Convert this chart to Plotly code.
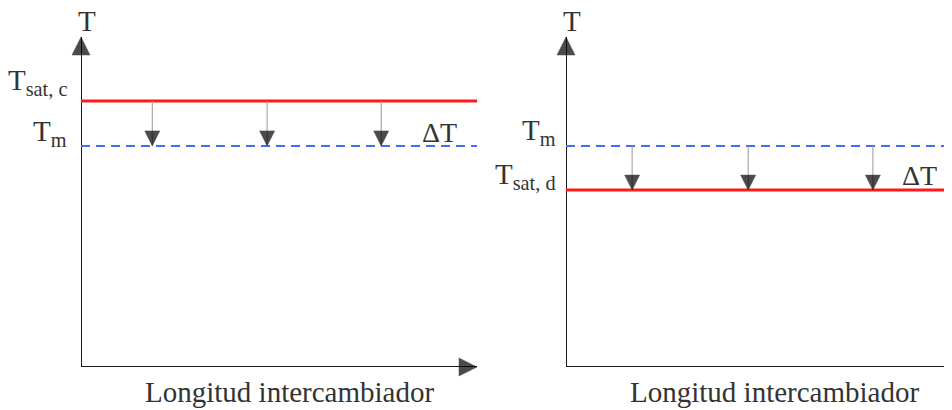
import plotly.graph_objects as go

# ---------------- data ----------------
axis_label_y = "T"
axis_label_x = "Longitud intercambiador"
delta_label = "ΔT"

length_max = 10.0          # length of the exchanger axis (arbitrary units)
temp_max = 100.0           # length of the temperature axis (arbitrary units)

# left panel: condensing fluid above the medium temperature
left_hot_level = 80.6      # T_sat, c
left_cold_level = 67.0     # T_m
left_hot_label = "T<sub>sat, c</sub>"
left_cold_label = "T<sub>m</sub>"
left_arrow_x = [1.80, 4.70, 7.58]

# right panel: evaporating fluid below the medium temperature
right_hot_level = 67.0     # T_m
right_cold_level = 53.6    # T_sat, d
right_hot_label = "T<sub>m</sub>"
right_cold_label = "T<sub>sat, d</sub>"
right_arrow_x = [1.67, 4.60, 7.75]

# ---------------- style ----------------
PAGE_OFF = 8                      # default body margin of the html page
WIN_W, WIN_H = 952, 410
W, H = WIN_W - PAGE_OFF, WIN_H - PAGE_OFF
FONT = "Liberation Serif"
RED = "#ff1a1a"
BLUE = "#3f6ff5"
AXIS = "#1a1a1a"
GREY = "#9a9a9a"

px_per_len = 39.6                 # pixels per length unit
left_x0_px, right_x0_px = 81 - PAGE_OFF, 566 - PAGE_OFF
y0_px, ytop_px = 367 - PAGE_OFF, 37 - PAGE_OFF

def xdom(x0px, xmax_len):
    return [x0px / W, min(1.0, (x0px + xmax_len * px_per_len) / W)]

y_domain = [(H - y0_px) / H, (H - ytop_px) / H]
right_visible = (W - right_x0_px) / px_per_len

fig = go.Figure()

def add_panel(xa, ya, hot, cold, hot_style, cold_style, arrows_x, arrow_from, arrow_to):
    fig.add_trace(go.Scatter(x=[0, 0], y=[0, temp_max], mode="lines+markers",
                             line=dict(color=AXIS, width=2),
                             marker=dict(symbol=["circle", "arrow-up"], size=[0, 18], color="black",
                                         line=dict(width=0.5, color="black")),
                             xaxis=xa, yaxis=ya, cliponaxis=False, hoverinfo="skip", showlegend=False))
    fig.add_trace(go.Scatter(x=[0, length_max], y=[0, 0], mode="lines+markers",
                             line=dict(color=AXIS, width=2),
                             marker=dict(symbol=["circle", "arrow-right"], size=[0, 18], color="black",
                                         line=dict(width=0.5, color="black")),
                             xaxis=xa, yaxis=ya, cliponaxis=False, hoverinfo="skip", showlegend=False))
    for level, style in ((hot, hot_style), (cold, cold_style)):
        fig.add_trace(go.Scatter(x=[0, length_max], y=[level, level], mode="lines",
                                 line=style, xaxis=xa, yaxis=ya,
                                 hoverinfo="skip", showlegend=False))
    for xv in arrows_x:
        fig.add_trace(go.Scatter(x=[xv, xv], y=[arrow_from, arrow_to], mode="lines+markers",
                                 line=dict(color=GREY, width=1),
                                 marker=dict(symbol=["circle", "arrow-down"], size=[0, 15],
                                             color="black", line=dict(width=0.5, color="black")),
                                 xaxis=xa, yaxis=ya, cliponaxis=False,
                                 hoverinfo="skip", showlegend=False))

red_style = dict(color=RED, width=3)
blue_style = dict(color=BLUE, width=2, dash="9px,6px")

add_panel("x", "y", left_hot_level, left_cold_level, red_style, blue_style,
          left_arrow_x, left_hot_level, left_cold_level)
add_panel("x2", "y2", right_hot_level, right_cold_level, blue_style, red_style,
          right_arrow_x, right_hot_level, right_cold_level)

ax_common = dict(showgrid=False, zeroline=False, showticklabels=False, showline=False, ticks="")
fig.update_layout(
    width=W, height=H, margin=dict(l=0, r=0, t=0, b=0),
    paper_bgcolor="white", plot_bgcolor="white",
    xaxis=dict(domain=xdom(left_x0_px, length_max), range=[0, length_max], **ax_common),
    yaxis=dict(domain=y_domain, range=[0, temp_max], **ax_common),
    xaxis2=dict(domain=xdom(right_x0_px, length_max), range=[0, right_visible], **ax_common),
    yaxis2=dict(domain=y_domain, range=[0, temp_max], anchor="x2", **ax_common),
    showlegend=False,
)

big = dict(family=FONT, size=29, color="#333333")
mid = dict(family=FONT, size=28, color="#333333")
lab = dict(family=FONT, size=29, color="#333333")

annots = []
for xr, yr in (("x", "y"), ("x2", "y2")):
    annots.append(dict(x=0, y=temp_max, xref=xr, yref=yr, text=axis_label_y, showarrow=False,
                       xanchor="left", yanchor="bottom", xshift=-5, yshift=-2, font=big))
    annots.append(dict(x=5.27, y=0, xref=xr, yref=yr, text=axis_label_x, showarrow=False,
                       xanchor="center", yanchor="top", yshift=-7, font=lab))

annots += [
    dict(x=0, y=left_hot_level, xref="x", yref="y", text=left_hot_label, showarrow=False,
         xanchor="right", yanchor="bottom", xshift=-12, yshift=-1, font=big),
    dict(x=0, y=left_cold_level, xref="x", yref="y", text=left_cold_label, showarrow=False,
         xanchor="right", yanchor="bottom", xshift=-12, yshift=-7, font=big),
    dict(x=0, y=right_hot_level, xref="x2", yref="y2", text=right_hot_label, showarrow=False,
         xanchor="right", yanchor="bottom", xshift=-8, yshift=-6, font=big),
    dict(x=0, y=right_cold_level, xref="x2", yref="y2", text=right_cold_label, showarrow=False,
         xanchor="right", yanchor="bottom", xshift=-8, yshift=-6, font=big),
    dict(x=9.05, y=left_cold_level, xref="x", yref="y", text=delta_label, showarrow=False,
         xanchor="center", yanchor="bottom", yshift=-4, font=mid),
    dict(x=8.92, y=right_cold_level, xref="x2", yref="y2", text=delta_label, showarrow=False,
         xanchor="center", yanchor="bottom", yshift=-3, font=mid),
]
fig.update_layout(annotations=annots)

fig.write_html("out.html")
